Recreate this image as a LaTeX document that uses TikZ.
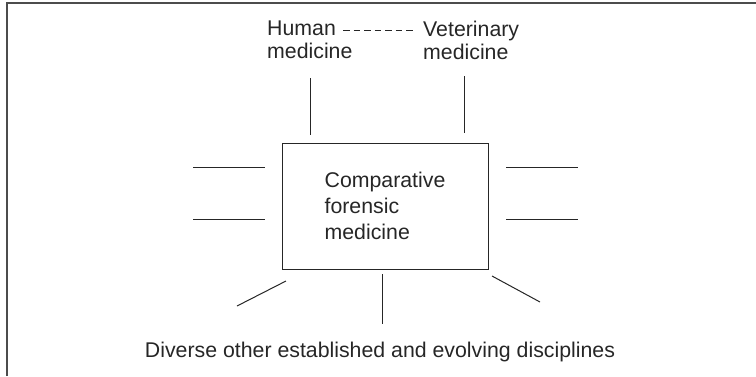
\documentclass[tikz,border=0pt]{standalone}
\usepackage{fontspec}
\setmainfont{Liberation Sans}

\begin{document}
\begin{tikzpicture}[x=1pt, y=-1pt,
  every node/.style = {inner sep=0pt, text=black!85,
    font=\fontsize{21.3}{23}\selectfont},
  stroke/.style = {draw=black!85, line width=1pt}]
  \useasboundingbox (0,0) rectangle (756,376);
  % frame (left and top edge only)
  \draw[black!70, line width=2pt] (7,376) -- (7,3) -- (756,3);

  \node[anchor=north west, align=left] (human) at (267,21) {Human\\medicine};
  \node[anchor=north west, align=left] (vet) at (423,21) {Veterinary\\medicine};
  \draw[stroke, dash pattern=on 6.5pt off 4pt] (343,30) -- (413,30);

  \node[draw=black!85, line width=1pt, minimum width=206pt, minimum height=126pt,
    align=left, font=\fontsize{21.3}{26}\selectfont] (cfm) at (385,206)
    {Comparative\\forensic\\medicine};

  % strokes round the box
  \draw[stroke] (310,78) -- (310,135);
  \draw[stroke] (464,76) -- (464,133);
  \foreach \y in {167,219} {
    \draw[stroke] (193,\y) -- (265,\y);
    \draw[stroke] (506,\y) -- (578,\y);
  }
  \draw[stroke] (286,281) -- (237,306);
  \draw[stroke] (382,274) -- (382,324);
  \draw[stroke] (492,276) -- (540,302);

  \node[anchor=base] (other) at (380,357)
    {Diverse other established and evolving disciplines};
\end{tikzpicture}
\end{document}
